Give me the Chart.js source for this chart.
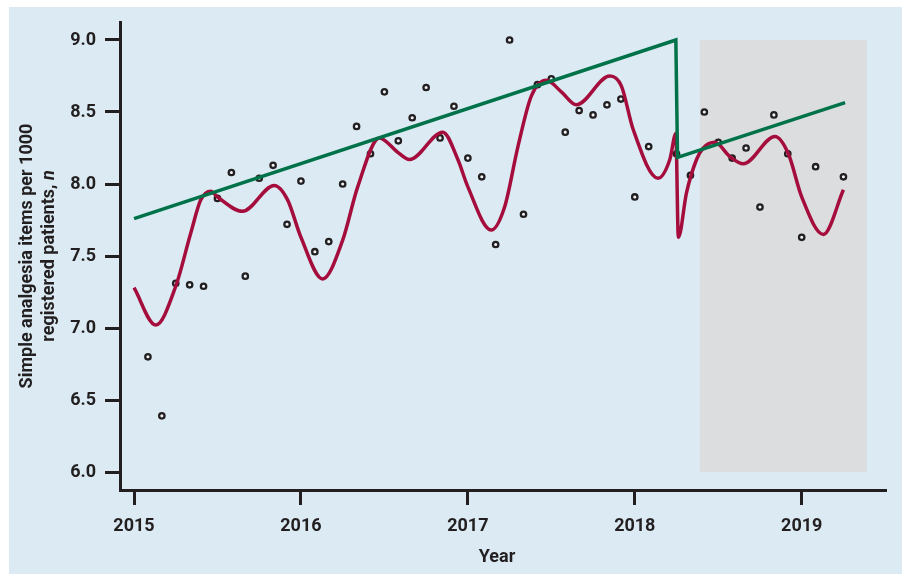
<!DOCTYPE html>
<html>
<head>
<meta charset="utf-8">
<title>Simple analgesia items per 1000 registered patients</title>
<script src="https://cdn.jsdelivr.net/npm/chart.js@4.4.1/dist/chart.umd.min.js"></script>
<style>
  html, body { margin: 0; padding: 0; background: #ffffff; }
  canvas { display: block; }
</style>
</head>
<body>
<canvas id="chart" width="907" height="574"></canvas>
<script>
// ================================
// DATA
// ================================
// monthly observations, month index counted from Jan 2015
const monthIdx = [1, 2, 3, 4, 5, 6, 7, 8, 9, 10, 11, 12,
  13, 14, 15, 16, 17, 18, 19, 20, 21, 22, 23, 24,
  25, 26, 27, 28, 29, 30, 31, 32, 33, 34, 35, 36,
  37, 39, 40, 41, 42, 43, 44, 45, 46, 47, 48, 49, 51];
const itemsPer1000 = [6.80, 6.39, 7.31, 7.30, 7.29, 7.90, 8.08, 7.36, 8.04, 8.13, 7.72, 8.02,
  7.53, 7.60, 8.00, 8.40, 8.21, 8.64, 8.30, 8.46, 8.67, 8.32, 8.54, 8.18,
  8.05, 7.58, 9.00, 7.79, 8.69, 8.73, 8.36, 8.51, 8.48, 8.55, 8.59, 7.91,
  8.26, 8.21, 8.06, 8.50, 8.29, 8.18, 8.25, 7.84, 8.48, 8.21, 7.63, 8.12, 8.05];

// fitted model with seasonality (red curve)
const fitYears = [2015.00, 2015.13, 2015.25, 2015.34, 2015.40, 2015.46, 2015.50, 2015.65, 2015.84, 2015.92,
  2016.00, 2016.13, 2016.25, 2016.34, 2016.47, 2016.58, 2016.65, 2016.85, 2016.94,
  2017.00, 2017.14, 2017.22, 2017.30, 2017.38, 2017.47, 2017.56, 2017.65, 2017.85, 2017.92, 2017.99,
  2018.14, 2018.21, 2018.246, 2018.261, 2018.31, 2018.37, 2018.41, 2018.48, 2018.57, 2018.65, 2018.84, 2018.92,
  2019.00, 2019.13, 2019.25];
const fitValues = [7.28, 7.02, 7.29, 7.66, 7.89, 7.95, 7.91, 7.81, 7.99, 7.89,
  7.63, 7.34, 7.61, 7.98, 8.32, 8.22, 8.17, 8.36, 8.17,
  7.98, 7.68, 7.84, 8.26, 8.61, 8.72, 8.64, 8.55, 8.75, 8.68, 8.38,
  8.04, 8.17, 8.35, 7.63, 7.94, 8.17, 8.25, 8.29, 8.19, 8.14, 8.33, 8.21,
  7.91, 7.65, 7.96];

// deseasonalised trend (green), with the step at the intervention
const trendYears = [2015.00, 2018.246, 2018.256, 2019.26];
const trendValues = [7.76, 9.00, 8.185, 8.565];

// shaded follow-up period
const shadeYears = [2018.39, 2019.39];
const shadeValues = [6.0, 9.0];

const xTicks = [2015, 2016, 2017, 2018, 2019];
const yTicks = [6.0, 6.5, 7.0, 7.5, 8.0, 8.5, 9.0];

// ================================
// STYLE
// ================================
const INK = "#231f20";
const BLUE = "#dbeaf3";
const GREY = "#dcdddf";
const RED = "#a50d3c";
const GREEN = "#007249";
const FONT = "Roboto, 'Liberation Sans', sans-serif";

const points = monthIdx.map((m, i) => ({ x: 2015 + m / 12, y: itemsPer1000[i] }));
const fit = fitYears.map((x, i) => ({ x: x, y: fitValues[i] }));
const trend = trendYears.map((x, i) => ({ x: x, y: trendValues[i] }));

// background panel, shaded period and the axis titles
const decorations = {
    id: "decorations",
    beforeDraw(chart) {
        const ctx = chart.ctx;
        ctx.save();
        ctx.fillStyle = "#ffffff";
        ctx.fillRect(0, 0, chart.width, chart.height);
        ctx.fillStyle = BLUE;
        ctx.fillRect(9, 7, 893, 567);
        ctx.restore();
    },
    beforeDatasetsDraw(chart) {
        const { ctx, scales: { x, y } } = chart;
        const x0 = x.getPixelForValue(shadeYears[0]);
        const x1 = x.getPixelForValue(shadeYears[1]);
        const y0 = y.getPixelForValue(shadeValues[1]);
        const y1 = y.getPixelForValue(shadeValues[0]);
        ctx.save();
        ctx.fillStyle = GREY;
        ctx.fillRect(x0, y0, x1 - x0, y1 - y0);
        ctx.restore();
    },
    afterDraw(chart) {
        const ctx = chart.ctx;
        const area = chart.chartArea;
        const midY = (area.top + area.bottom) / 2;
        const titleFont = "bold 18px " + FONT;
        const italicFont = "italic bold 18px " + FONT;
        ctx.save();
        ctx.fillStyle = INK;
        ctx.textBaseline = "middle";

        // y title, two rotated lines, italic n
        ctx.save();
        ctx.translate(27, midY);
        ctx.rotate(-Math.PI / 2);
        ctx.font = titleFont;
        ctx.textAlign = "center";
        ctx.fillText("Simple analgesia items per 1000", 0, 0);
        ctx.restore();

        ctx.save();
        ctx.translate(49, midY);
        ctx.rotate(-Math.PI / 2);
        const first = "registered patients, ";
        ctx.font = titleFont;
        const w1 = ctx.measureText(first).width;
        ctx.font = italicFont;
        const w2 = ctx.measureText("n").width;
        ctx.textAlign = "left";
        ctx.font = titleFont;
        ctx.fillText(first, -(w1 + w2) / 2, 0);
        ctx.font = italicFont;
        ctx.fillText("n", -(w1 + w2) / 2 + w1, 0);
        ctx.restore();

        // x title
        ctx.font = titleFont;
        ctx.textAlign = "center";
        ctx.fillText("Year", (area.left + area.right) / 2 - 6, 557);
        ctx.restore();
    }
};

new Chart(document.getElementById("chart").getContext("2d"), {
    type: "scatter",
    data: {
        datasets: [
            {
                label: "Trend",
                data: trend,
                showLine: true,
                borderColor: GREEN,
                borderWidth: 3.5,
                pointRadius: 0,
                tension: 0,
                order: 0
            },
            {
                label: "Model",
                data: fit,
                showLine: true,
                borderColor: RED,
                borderWidth: 3.5,
                pointRadius: 0,
                cubicInterpolationMode: "monotone",
                order: 1
            },
            {
                label: "Observed",
                data: points,
                showLine: false,
                pointRadius: 2.7,
                pointBorderWidth: 2.3,
                pointBorderColor: INK,
                pointBackgroundColor: "#eef4f8",
                order: 2
            }
        ]
    },
    options: {
        responsive: false,
        animation: false,
        layout: { padding: { top: 22, right: 21, left: 0, bottom: 0 } },
        plugins: {
            legend: { display: false },
            tooltip: { enabled: false }
        },
        scales: {
            x: {
                type: "linear",
                min: 2014.916,
                max: 2019.505,
                afterBuildTicks: scale => { scale.ticks = xTicks.map(v => ({ value: v })); },
                afterFit: scale => { scale.height = 84; },
                grid: {
                    drawOnChartArea: false,
                    drawTicks: true,
                    tickLength: 15,
                    tickWidth: 3,
                    tickColor: INK,
                    color: INK
                },
                border: { display: true, color: INK, width: 3 },
                ticks: {
                    autoSkip: false,
                    maxRotation: 0,
                    padding: 11,
                    color: INK,
                    font: { family: FONT, size: 18, weight: "bold" },
                    callback: v => String(v)
                }
            },
            y: {
                min: 5.875,
                max: 9.125,
                afterBuildTicks: scale => { scale.ticks = yTicks.map(v => ({ value: v })); },
                afterFit: scale => { scale.width = 120; },
                grid: {
                    drawOnChartArea: false,
                    drawTicks: true,
                    tickLength: 15,
                    tickWidth: 3,
                    tickColor: INK,
                    color: INK
                },
                border: { display: true, color: INK, width: 3 },
                ticks: {
                    padding: 9,
                    color: INK,
                    font: { family: FONT, size: 18, weight: "bold" },
                    callback: v => v.toFixed(1)
                }
            }
        }
    },
    plugins: [decorations]
});
</script>
</body>
</html>
